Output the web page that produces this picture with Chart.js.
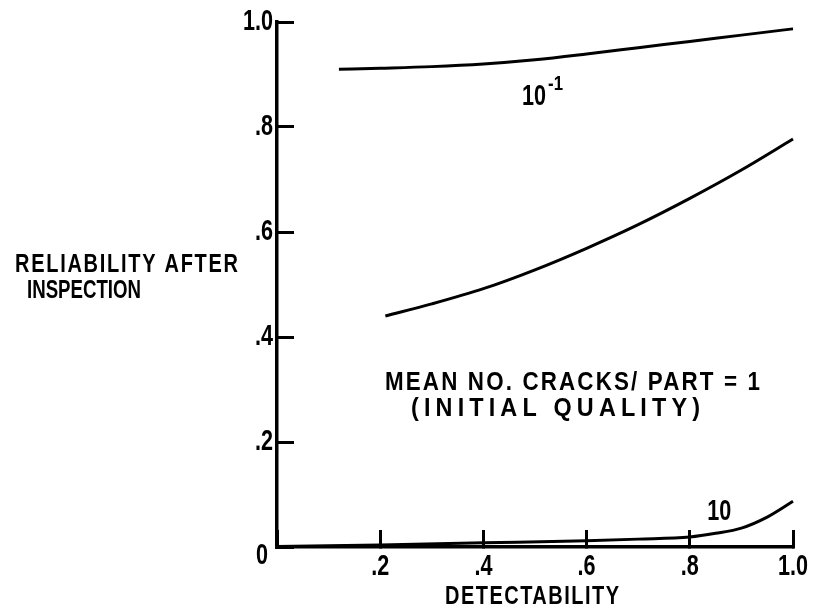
<!DOCTYPE html>
<html>
<head>
<meta charset="utf-8">
<script src="https://cdn.jsdelivr.net/npm/chart.js@4.4.0/dist/chart.umd.min.js"></script>
<style>
  html, body { margin: 0; padding: 0; background: #fff; }
  #wrap { width: 813px; height: 613px; }
</style>
</head>
<body>
<div id="wrap"><canvas id="chart" width="813" height="613"></canvas></div>
<script>
// mean no. cracks/part = 10^-1
const detLow = [0.12, 0.2, 0.3, 0.4, 0.5, 0.6, 0.7, 0.8, 0.9, 1.0];
const relLow = [0.910, 0.912, 0.915, 0.920, 0.928, 0.939, 0.951, 0.963, 0.975, 0.987];
// mean no. cracks/part = 1
const detMid = [0.21, 0.3, 0.4, 0.5, 0.6, 0.7, 0.8, 0.9, 1.0];
const relMid = [0.440, 0.463, 0.492, 0.528, 0.569, 0.614, 0.664, 0.718, 0.777];
// mean no. cracks/part = 10
const detHigh = [0, 0.2, 0.4, 0.6, 0.7, 0.8, 0.85, 0.9, 0.95, 1.0];
const relHigh = [0.001, 0.004, 0.008, 0.012, 0.015, 0.019, 0.026, 0.036, 0.057, 0.087];

const xTicks = [0, 0.2, 0.4, 0.6, 0.8, 1.0];
const xTickLabels = ['', '.2', '.4', '.6', '.8', '1.0'];
const yTicks = [0, 0.2, 0.4, 0.6, 0.8, 1.0];
const yTickLabels = ['0', '.2', '.4', '.6', '.8', '1.0'];

const FONT = '"Liberation Sans", Arial, sans-serif';

const toPoints = (xs, ys) => xs.map((x, i) => ({ x: x, y: ys[i] }));

const lineStyle = {
    borderColor: '#000',
    borderWidth: 3,
    pointRadius: 0,
    fill: false,
    tension: 0.4,
    cubicInterpolationMode: 'monotone',
    clip: false
};

// short tick marks pointing into the plot
const inwardGrid = {
    display: true,
    drawOnChartArea: false,
    drawTicks: true,
    tickLength: -17,
    tickWidth: 3,
    tickColor: '#000'
};

// condensed lettering: squeeze glyphs by sx, then spread letters to the wanted width
function letterText(ctx, text, x, y, width, sx, align) {
    sx = sx || 0.8;
    ctx.save();
    ctx.letterSpacing = '0px';
    const w0 = ctx.measureText(text).width;
    let sp = 0;
    if (width) {
        if (w0 * sx > width) sx = width / w0;
        else if (text.length > 1) sp = (width - w0 * sx) / (text.length - 1) / sx;
    }
    ctx.letterSpacing = sp + 'px';
    const total = width || w0 * sx;
    let left = x;
    if (align === 'center') left = x - total / 2;
    if (align === 'right') left = x - total;
    ctx.translate(left, y);
    ctx.scale(sx, 1);
    ctx.textAlign = 'left';
    ctx.fillText(text, 0, 0);
    ctx.restore();
}

const annotations = {
    id: 'annotations',
    afterDraw(chart) {
        const ctx = chart.ctx;
        const xs = chart.scales.x;
        const ys = chart.scales.y;
        const area = chart.chartArea;
        ctx.save();
        ctx.fillStyle = '#000';
        ctx.textBaseline = 'middle';

        // tick labels
        ctx.font = 'bold 30px ' + FONT;
        yTicks.forEach((v, i) => {
            const py = ys.getPixelForValue(v);
            if (i === 0) letterText(ctx, yTickLabels[i], area.left - 9, py + 9, 0, 0.72, 'right');
            else letterText(ctx, yTickLabels[i], area.left - 4, py, 0, 0.72, 'right');
        });
        xTicks.forEach((v, i) => {
            if (!xTickLabels[i]) return;
            letterText(ctx, xTickLabels[i], xs.getPixelForValue(v), area.bottom + 20, 0, 0.72, 'center');
        });

        // y axis title
        ctx.font = 'bold 25px ' + FONT;
        letterText(ctx, 'RELIABILITY AFTER', 15, 265, 223, 0.8);
        letterText(ctx, 'INSPECTION', 27, 291, 114, 0.78);

        // x axis title
        letterText(ctx, 'DETECTABILITY', 445, 597, 174, 0.8);

        // note
        ctx.font = 'bold 26px ' + FONT;
        letterText(ctx, 'MEAN NO. CRACKS/ PART = 1', 385, ys.getPixelForValue(0.312), 375, 0.86);
        letterText(ctx, '(INITIAL QUALITY)', 411, ys.getPixelForValue(0.263), 289, 0.9);

        // curve labels
        ctx.font = 'bold 29px ' + FONT;
        const lx = xs.getPixelForValue(0.475);
        const ly = ys.getPixelForValue(0.857);
        letterText(ctx, '10', lx, ly, 24, 0.8);
        ctx.font = 'bold 21px ' + FONT;
        letterText(ctx, '-1', lx + 26, ly - 13, 0, 0.8);

        ctx.font = 'bold 29px ' + FONT;
        letterText(ctx, '10', xs.getPixelForValue(0.834), ys.getPixelForValue(0.067), 24, 0.8);

        ctx.restore();
    }
};

new Chart(document.getElementById('chart'), {
    type: 'line',
    data: {
        datasets: [
            Object.assign({ label: '10^-1', data: toPoints(detLow, relLow) }, lineStyle),
            Object.assign({ label: '1', data: toPoints(detMid, relMid) }, lineStyle),
            Object.assign({ label: '10', data: toPoints(detHigh, relHigh) }, lineStyle)
        ]
    },
    options: {
        responsive: false,
        animation: false,
        layout: { padding: { top: 22, right: 20, left: 0, bottom: 0 } },
        plugins: {
            legend: { display: false },
            tooltip: { enabled: false }
        },
        scales: {
            x: {
                type: 'linear',
                min: 0,
                max: 1,
                afterBuildTicks: s => { s.ticks = xTicks.map(v => ({ value: v })); },
                afterFit: s => { s.height = 66; s.paddingLeft = 0; s.paddingRight = 0; },
                grid: inwardGrid,
                border: { display: true, color: '#000', width: 3.5 },
                ticks: { display: false }
            },
            y: {
                type: 'linear',
                min: 0,
                max: 1,
                afterBuildTicks: s => { s.ticks = yTicks.map(v => ({ value: v })); },
                afterFit: s => { s.width = 277; s.paddingTop = 0; s.paddingBottom = 0; },
                grid: inwardGrid,
                border: { display: true, color: '#000', width: 3.5 },
                ticks: { display: false }
            }
        }
    },
    plugins: [annotations]
});
</script>
</body>
</html>
